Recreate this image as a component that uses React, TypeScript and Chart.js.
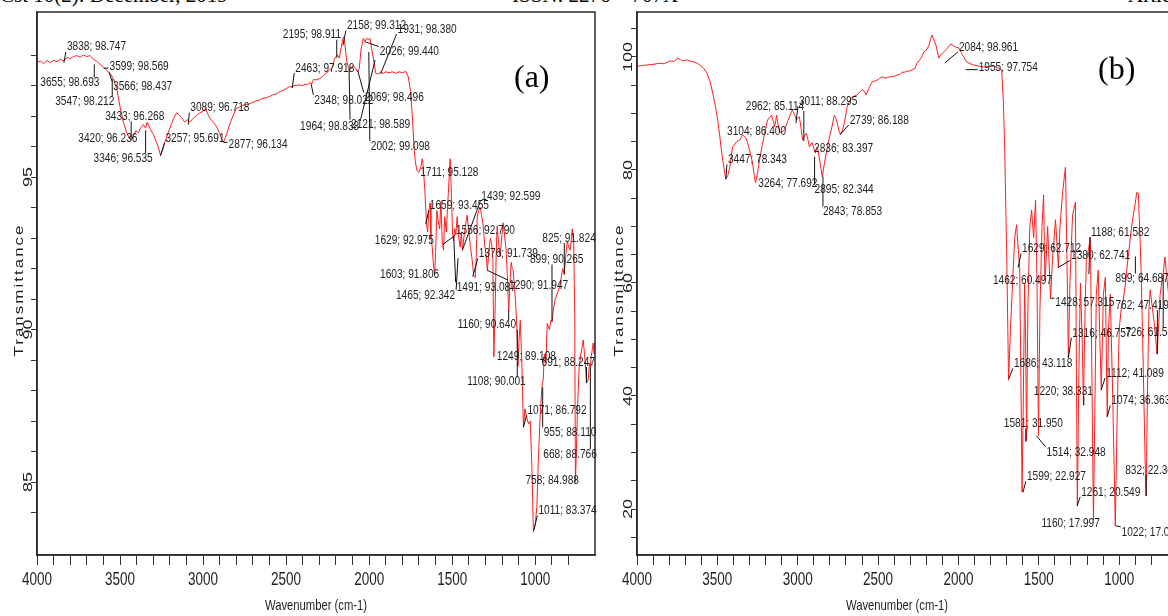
import React, { useEffect, useRef } from 'react';
import { Chart, registerables } from 'chart.js';

Chart.register(...registerables);

// ---------------- data: panel (a) ----------------
const wavenumberA = [
  4000, 3980, 3960, 3940, 3920, 3900, 3880, 3860, 3838, 3820, 3800, 3780, 3760, 3740, 3720, 3700, 3680, 3660, 3640, 3620,
  3600, 3580, 3560, 3540, 3520, 3500, 3480, 3460, 3440, 3430, 3420, 3405, 3390, 3375, 3360, 3346, 3337, 3320, 3300, 3285,
  3270, 3257, 3245, 3230, 3210, 3190, 3175, 3160, 3145, 3130, 3110, 3095, 3080, 3060, 3040, 3020, 3000, 2985, 2970, 2955,
  2935, 2915, 2900, 2885, 2877, 2865, 2850, 2835, 2820, 2800, 2780, 2760, 2740, 2720, 2700, 2680, 2660, 2640, 2620, 2600,
  2580, 2560, 2540, 2520, 2500, 2480, 2470, 2463, 2455, 2440, 2420, 2400, 2385, 2370, 2355, 2348, 2335, 2320, 2300, 2280,
  2260, 2240, 2220, 2210, 2200, 2190, 2180, 2170, 2160, 2152, 2145, 2135, 2125, 2110, 2095, 2080, 2069, 2060, 2048, 2035,
  2026, 2015, 2005, 1995, 1985, 1975, 1960, 1945, 1930, 1915, 1900, 1880, 1860, 1840, 1820, 1800, 1780, 1765, 1750, 1740,
  1730, 1722, 1715, 1711, 1700, 1690, 1680, 1675, 1665, 1655, 1648, 1640, 1633, 1628, 1620, 1614, 1606, 1600, 1592, 1585,
  1575, 1568, 1560, 1552, 1545, 1535, 1528, 1520, 1512, 1505, 1498, 1492, 1485, 1478, 1470, 1460, 1452, 1445, 1438, 1430,
  1420, 1410, 1400, 1390, 1380, 1370, 1361, 1355, 1349, 1340, 1331, 1322, 1313, 1305, 1295, 1288, 1280, 1270, 1262, 1255,
  1249, 1242, 1235, 1229, 1220, 1211, 1202, 1193, 1185, 1175, 1168, 1160, 1152, 1145, 1138, 1133, 1125, 1118, 1110, 1104,
  1098, 1090, 1080, 1071, 1062, 1050, 1040, 1030, 1020, 1011, 1000, 990, 982, 970, 960, 952, 945, 935, 928, 915,
  905, 899, 892, 880, 865, 849, 835, 825, 815, 807, 798, 789, 782, 777, 768, 762, 758, 752, 745, 735,
  725, 711, 700, 691, 681, 673, 668, 663, 655, 651, 645, 640,
];
const transmittanceA = [
  98.76, 98.8, 98.72, 98.82, 98.75, 98.83, 98.78, 98.86, 98.8, 98.92, 98.88, 98.95, 98.98, 98.93, 99.0, 98.95, 98.98, 98.86, 98.8, 98.7,
  98.6, 98.5, 98.4, 98.22, 97.9, 97.3, 96.8, 96.45, 96.25, 96.22, 96.35, 96.52, 96.45, 96.62, 96.72, 96.6, 96.8, 96.6, 96.4, 96.2,
  96.0, 95.72, 95.85, 96.15, 96.45, 96.75, 96.95, 97.1, 97.05, 96.95, 96.8, 96.88, 96.8, 96.92, 97.02, 97.1, 97.15, 97.25, 97.05, 96.9,
  96.78, 96.62, 96.42, 96.2, 96.15, 96.3, 96.55, 96.8, 97.0, 97.25, 97.3, 97.35, 97.38, 97.4, 97.45, 97.5, 97.52, 97.58, 97.6, 97.64,
  97.7, 97.72, 97.8, 97.84, 97.9, 97.96, 97.98, 97.92, 98.0, 98.0, 98.02, 98.0, 98.05, 98.03, 98.1, 98.02, 98.2, 98.18, 98.22, 98.3,
  98.4, 98.5, 98.6, 98.85, 98.95, 99.0, 98.9, 99.2, 99.5, 99.6, 99.3, 98.8, 98.6, 98.55, 98.65, 98.55, 98.45, 98.55, 99.2, 99.55,
  99.45, 99.55, 99.5, 99.55, 99.2, 98.9, 98.4, 98.38, 98.45, 98.4, 98.45, 98.42, 98.45, 98.4, 98.45, 98.42, 98.46, 98.3, 97.8, 97.0,
  96.0, 95.5, 95.3, 95.2, 95.15, 95.3, 95.6, 95.4, 94.6, 93.5, 93.2, 93.9, 94.15, 93.0, 92.7, 92.2, 91.8, 92.5, 93.9, 93.6,
  93.3, 94.2, 92.9, 92.6, 93.7, 93.2, 94.0, 94.8, 95.6, 94.5, 93.2, 92.9, 93.3, 93.1, 93.7, 93.0, 92.7, 93.2, 92.6, 93.0,
  93.4, 93.75, 93.2, 92.7, 92.3, 91.75, 91.7, 92.4, 93.7, 93.9, 94.0, 93.7, 93.4, 92.8, 92.4, 91.95, 92.5, 93.0, 92.8, 92.3,
  89.1, 90.5, 92.5, 93.4, 92.8, 92.4, 93.0, 93.5, 93.1, 92.6, 91.8, 90.6, 91.5, 92.2, 92.0, 91.95, 91.4, 90.9, 90.0, 88.8,
  89.6, 90.3, 88.8, 86.8, 87.4, 87.1, 86.9, 87.0, 85.5, 83.4, 83.6, 84.2, 85.6, 87.2, 88.1, 88.35, 89.2, 88.9, 90.2, 90.0,
  90.3, 90.25, 90.6, 91.0, 91.2, 91.5, 92.0, 91.8, 92.5, 92.9, 92.7, 92.6, 93.0, 93.3, 92.8, 90.5, 85.0, 86.0, 87.5, 88.8,
  89.2, 89.66, 89.0, 88.25, 88.35, 88.9, 88.77, 89.1, 89.4, 89.56, 89.2, 89.6,
];
const peakWavenumberA = [
  3838, 3655, 3599, 3566, 3547, 3433, 3420, 3346, 3257, 3089, 2877, 2463, 2348, 1964, 2195, 2158, 1931, 2026, 2069, 2121, 2002,
  1711, 1659, 1629, 1603, 1556, 1465, 1491, 1439, 1376, 1290, 1160, 1249, 1108, 1071, 1011, 955, 899, 825, 691, 668, 758,
];
const peakTransmittanceA = [
  98.747, 98.693, 98.569, 98.437, 98.212, 96.268, 96.236, 96.535, 95.691, 96.718, 96.134, 97.918, 98.022, 98.838, 98.911, 99.312, 98.38, 99.44, 98.496, 98.589, 99.098,
  95.128, 93.455, 92.975, 91.806, 92.79, 92.342, 93.087, 92.599, 91.739, 91.947, 90.64, 89.108, 90.001, 86.792, 83.374, 88.11, 90.265, 91.824, 88.247, 88.766, 84.988,
];

// ---------------- data: panel (b) ----------------
const wavenumberB = [
  4000, 3970, 3932, 3900, 3857, 3830, 3795, 3770, 3746, 3730, 3715, 3690, 3665, 3640, 3609, 3585, 3566, 3545, 3529, 3510,
  3498, 3485, 3473, 3460, 3448, 3435, 3423, 3405, 3380, 3361, 3343, 3325, 3312, 3295, 3281, 3270, 3262, 3250, 3237, 3220,
  3206, 3188, 3163, 3150, 3144, 3138, 3132, 3122, 3113, 3095, 3082, 3060, 3039, 3033, 3020, 3008, 3000, 2990, 2980, 2970,
  2958, 2946, 2935, 2927, 2918, 2909, 2900, 2890, 2884, 2878, 2862, 2847, 2835, 2822, 2805, 2791, 2772, 2765, 2754, 2740,
  2729, 2720, 2710, 2692, 2676, 2661, 2630, 2615, 2599, 2585, 2574, 2555, 2537, 2506, 2490, 2475, 2460, 2444, 2430, 2413,
  2400, 2382, 2365, 2351, 2335, 2320, 2305, 2289, 2270, 2258, 2245, 2233, 2214, 2195, 2183, 2165, 2152, 2140, 2122, 2105,
  2091, 2070, 2047, 2020, 1998, 1975, 1948, 1925, 1905, 1875, 1843, 1810, 1781, 1755, 1731, 1720, 1712, 1700, 1688, 1676,
  1663, 1650, 1638, 1628, 1619, 1612, 1604, 1596, 1588, 1582, 1576, 1568, 1556, 1545, 1532, 1520, 1511, 1502, 1493, 1480,
  1470, 1462, 1458, 1445, 1427, 1415, 1396, 1385, 1378, 1368, 1352, 1334, 1325, 1316, 1306, 1290, 1272, 1266, 1260, 1250,
  1241, 1230, 1222, 1212, 1204, 1190, 1179, 1170, 1160, 1150, 1142, 1130, 1120, 1111, 1098, 1086, 1080, 1074, 1066, 1055,
  1040, 1024, 1010, 999, 985, 975, 960, 950, 938, 925, 912, 900, 891, 881, 870, 863, 850, 838, 832, 824,
  815, 807, 795, 782, 772, 764, 755, 745, 735, 727, 715, 700, 680, 660, 640,
];
const transmittanceB = [
  98.3, 98.5, 98.6, 98.7, 98.9, 98.8, 99.3, 99.2, 99.8, 99.5, 99.3, 99.5, 99.2, 99.1, 98.6, 98.0, 97.2, 95.6, 93.6, 91.0,
  88.85, 86.0, 83.0, 80.5, 78.4, 79.0, 80.5, 84.1, 85.0, 85.3, 86.2, 85.8, 84.8, 83.0, 81.2, 79.0, 77.7, 79.5, 81.8, 84.5,
  86.5, 88.85, 89.7, 88.5, 87.6, 88.5, 89.7, 88.0, 86.7, 86.8, 87.1, 88.8, 90.3, 90.6, 89.8, 88.85, 89.2, 89.4, 87.6, 85.3,
  86.0, 86.5, 85.2, 84.1, 84.6, 84.8, 83.8, 83.0, 83.6, 84.1, 81.5, 78.8, 81.0, 83.0, 85.5, 87.1, 89.7, 89.3, 88.3, 86.6,
  86.5, 87.2, 88.3, 91.2, 92.3, 92.9, 93.3, 93.8, 94.2, 93.9, 93.3, 94.6, 95.6, 95.9, 96.2, 96.5, 96.3, 96.3, 96.5, 96.5,
  96.6, 96.8, 96.9, 97.3, 97.3, 97.5, 97.5, 97.7, 98.0, 98.9, 99.3, 99.8, 100.9, 101.4, 102.1, 103.9, 103.0, 102.1, 99.8, 100.5,
  100.9, 101.5, 102.3, 101.8, 101.6, 100.4, 99.1, 98.8, 98.6, 98.4, 98.2, 98.3, 98.4, 98.1, 97.7, 92.0, 83.5, 65.8, 42.8, 52.0,
  60.0, 68.0, 70.3, 66.0, 62.7, 45.0, 23.0, 40.0, 60.0, 50.0, 32.0, 55.0, 70.0, 72.9, 68.0, 74.7, 60.0, 33.0, 55.0, 70.0,
  75.6, 60.5, 62.0, 70.0, 57.3, 64.0, 71.2, 66.0, 62.7, 70.0, 76.0, 80.5, 65.0, 46.7, 60.0, 72.0, 74.3, 45.0, 20.5, 45.0,
  60.0, 50.0, 38.4, 55.0, 64.0, 66.0, 68.1, 45.0, 18.0, 40.0, 58.0, 62.3, 50.0, 41.1, 58.0, 61.0, 48.0, 36.3, 52.0, 58.0,
  40.0, 17.0, 40.0, 52.0, 56.0, 57.0, 60.0, 63.0, 66.0, 69.4, 72.0, 74.0, 76.0, 75.9, 68.0, 62.0, 45.0, 28.0, 22.3, 40.0,
  55.0, 58.8, 56.0, 53.0, 50.0, 47.4, 52.0, 58.0, 60.0, 61.4, 64.6, 60.0, 55.0, 52.0, 50.0,
];
const peakWavenumberB = [
  2084, 1955, 2962, 3104, 3011, 2739, 3447, 2836, 3264, 2895, 2843,
  1188, 1629, 1380, 1462, 1428, 899, 762, 1316, 726, 1686, 1220, 1112, 1074, 1581, 1514, 1599, 1261, 832, 1160, 1022,
];
const peakTransmittanceB = [
  98.961, 97.754, 85.114, 86.4, 88.295, 86.188, 78.343, 83.397, 77.692, 82.344, 78.853,
  61.582, 62.712, 62.741, 60.497, 57.315, 64.687, 47.419, 46.757, 61.505, 43.118, 38.331, 41.089, 36.363, 31.95, 32.948, 22.927, 20.549, 22.308, 17.997, 17.024,
];

// axis ranges / tick spacing
const xRange = [640, 4000];
const yRangeA = [82.61, 100.41];
const yRangeB = [11.86, 107.96];
const xMinorStep = 100;
const xLabelStep = 500;
const yMinorStepA = 1;
const yLabelStepA = 5;
const yMinorStepB = 5;
const yLabelStepB = 20;

// ---------------- layout (pixels) ----------------
// label offsets [dx, dy] of the label's left/centre from its peak marker
const labelOffsetA = [
  [3, -16], [-54, 18], [6, -2], [4, 14], [-57, 22], [-26, -22], [-55, -1], [-52, 28], [5, -18], [2, -17], [5, 2], [3, -20], [3, 15], [-75, 66],
  [-54, -23], [4, -20], [17, -45], [15, 10], [7, 27], [2, 57], [2, 94],
  [3, -1], [4, -19], [-56, 1], [-55, 0], [13, -14], [-62, 37], [3, 52], [19, -54], [6, -23], [22, 15], [-51, 14], [3, 0], [-50, 52],
  [4, -17], [5, -21], [1, 45], [-22, -62], [-22, -36], [-45, -21], [-47, 87], [-50, -2],
];
const labelOffsetB = [
  [14, -16], [13, -2], [-58, -35], [-54, -3], [3, -22], [10, -15], [2, -20], [-10, -3], [3, 0], [0, 33], [0, 35],
  [2, -42], [4, -19], [13, -12], [-52, 0], [5, 4], [-20, 22], [-42, -49], [4, -25], [-38, 58], [5, -15], [-50, -14], [5, -17], [4, -16],
  [-22, -18], [10, 16], [4, -16], [4, -14], [-21, -26], [-52, 3], [6, 6],
];

const SQUEEZE = 0.75;
const INK = '#1e1e1e';
const SANS = '"Liberation Sans", Arial, sans-serif';

function squeezedText(
  ctx: CanvasRenderingContext2D, text: string, x: number, y: number, font: string,
  align: CanvasTextAlign, baseline: CanvasTextBaseline, rotate = false, spacing = 0,
) {
  ctx.save();
  ctx.translate(x, y);
  ctx.scale(SQUEEZE, 1);
  if (rotate) ctx.rotate(-Math.PI / 2);
  ctx.font = font;
  ctx.fillStyle = INK;
  ctx.textAlign = align;
  ctx.textBaseline = baseline;
  (ctx as any).letterSpacing = spacing + 'px';
  ctx.fillText(text, 0, 0);
  ctx.restore();
}

type PanelSpec = {
  wn: number[];
  tr: number[];
  peakWn: number[];
  peakTr: number[];
  offsets: number[][];
  yRange: number[];
  yMinorStep: number;
  yLabelStep: number;
  tag: string;
  tagPos: number[];
  titleX: number;
  width: number;
  padRight: number;
};

function makeDecor(spec: PanelSpec) {
  return {
    id: 'ftirDecor',
    afterDatasetsDraw(chart: any) {
      const ctx: CanvasRenderingContext2D = chart.ctx;
      const { left, right, top, bottom } = chart.chartArea;
      const xs = chart.scales.x;
      const ys = chart.scales.y;
      // frame
      ctx.save();
      ctx.strokeStyle = '#2a2a2a';
      ctx.lineWidth = 1.5;
      ctx.strokeRect(left, top, right - left, bottom - top);
      ctx.restore();
      // peak labels with leader lines
      const labelFont = `13.5px ${SANS}`;
      ctx.save();
      ctx.font = labelFont;
      spec.peakWn.forEach((w, i) => {
        const v = spec.peakTr[i];
        const text = `${w}; ${v.toFixed(3)}`;
        const mx = xs.getPixelForValue(w);
        const my = ys.getPixelForValue(v);
        const [dx, dy] = spec.offsets[i];
        const lx = mx + dx;
        const cy = my + dy;
        const wdt = ctx.measureText(text).width * SQUEEZE;
        const bx0 = lx - 1, bx1 = lx + wdt + 1, by0 = cy - 5, by1 = cy + 5;
        const px = Math.min(Math.max(mx, bx0), bx1);
        const py = Math.min(Math.max(my, by0), by1);
        if (Math.hypot(px - mx, py - my) > 2) {
          ctx.save();
          ctx.strokeStyle = '#111';
          ctx.lineWidth = 1;
          ctx.beginPath();
          ctx.moveTo(mx, my);
          ctx.lineTo(px, py);
          ctx.stroke();
          ctx.restore();
        }
        squeezedText(ctx, text, lx, cy, labelFont, 'left', 'middle');
      });
      ctx.restore();
      // x tick labels
      xs.ticks.forEach((t: any) => {
        if (Math.round(t.value) % xLabelStep === 0) {
          squeezedText(ctx, String(t.value), xs.getPixelForValue(t.value), 580, `18px ${SANS}`, 'center', 'middle');
        }
      });
      // y tick labels (rotated)
      ys.ticks.forEach((t: any) => {
        if (Math.round(t.value) % spec.yLabelStep === 0) {
          squeezedText(ctx, String(t.value), left - 9, ys.getPixelForValue(t.value), `18px ${SANS}`, 'center', 'middle', true);
        }
      });
      // axis titles
      squeezedText(ctx, 'Wavenumber (cm-1)', spec.titleX, 606, `15px ${SANS}`, 'center', 'middle');
      squeezedText(ctx, 'Transmittance', left - 18, 290, `17px ${SANS}`, 'center', 'middle', true, 2);
      // panel tag
      ctx.save();
      ctx.font = '32px "Liberation Serif", "Times New Roman", serif';
      ctx.fillStyle = '#000';
      ctx.textAlign = 'left';
      ctx.textBaseline = 'middle';
      ctx.fillText(spec.tag, spec.tagPos[0], spec.tagPos[1]);
      ctx.restore();
    },
  };
}

function Panel({ spec, left }: { spec: PanelSpec; left: number }) {
  const ref = useRef<HTMLCanvasElement | null>(null);
  useEffect(() => {
    if (!ref.current) return;
    const points = spec.wn.map((w, i) => ({ x: w, y: spec.tr[i] }));
    const chart = new Chart(ref.current, {
      type: 'line',
      data: {
        datasets: [
          {
            data: points,
            borderColor: '#ff1e1e',
            borderWidth: 1,
            pointRadius: 0,
            tension: 0,
            fill: false,
          },
        ],
      },
      options: {
        animation: false,
        responsive: false,
        devicePixelRatio: 1,
        parsing: false,
        layout: { padding: { top: 12, right: spec.padRight, left: 0, bottom: 0 } },
        plugins: { legend: { display: false }, tooltip: { enabled: false }, title: { display: false } },
        scales: {
          x: {
            type: 'linear',
            reverse: true,
            min: xRange[0],
            max: xRange[1],
            ticks: { display: false, stepSize: xMinorStep },
            afterBuildTicks: (s: any) => {
              s.ticks = s.ticks.filter((t: any) => Math.abs(t.value / xMinorStep - Math.round(t.value / xMinorStep)) < 1e-6);
            },
            afterFit: (s: any) => { s.height = 616 - 555; },
            grid: { drawOnChartArea: false, drawTicks: true, tickLength: 10, color: '#333', lineWidth: 1 },
            border: { display: true, color: '#2a2a2a', width: 1.5 },
          },
          y: {
            type: 'linear',
            min: spec.yRange[0],
            max: spec.yRange[1],
            ticks: { display: false, stepSize: spec.yMinorStep },
            afterBuildTicks: (s: any) => {
              s.ticks = s.ticks.filter((t: any) => Math.abs(t.value / spec.yMinorStep - Math.round(t.value / spec.yMinorStep)) < 1e-6);
            },
            afterFit: (s: any) => { s.width = 37; },
            grid: { drawOnChartArea: false, drawTicks: true, tickLength: 6, color: '#333', lineWidth: 1 },
            border: { display: true, color: '#2a2a2a', width: 1.5 },
          },
        },
      } as any,
      plugins: [makeDecor(spec)],
    });
    return () => chart.destroy();
  }, [spec]);
  return (
    <canvas
      ref={ref}
      width={spec.width}
      height={616}
      style={{ position: 'absolute', left, top: 0, width: spec.width, height: 616 }}
    />
  );
}

const specA: PanelSpec = {
  wn: wavenumberA, tr: transmittanceA, peakWn: peakWavenumberA, peakTr: peakTransmittanceA, offsets: labelOffsetA,
  yRange: yRangeA, yMinorStep: yMinorStepA, yLabelStep: yLabelStepA, tag: '(a)', tagPos: [514, 79], titleX: 316, width: 600, padRight: 5,
};
const specB: PanelSpec = {
  wn: wavenumberB, tr: transmittanceB, peakWn: peakWavenumberB, peakTr: peakTransmittanceB, offsets: labelOffsetB,
  yRange: yRangeB, yMinorStep: yMinorStepB, yLabelStep: yLabelStepB, tag: '(b)', tagPos: [498, 71], titleX: 297, width: 600, padRight: 23,
};

export default function App() {
  return (
    <div style={{ position: 'fixed', left: 0, top: 0, width: 1168, height: 616, overflow: 'hidden', background: '#fff' }}>
      <div style={{ position: 'absolute', left: 0, top: -17, font: '21px "Liberation Serif", serif', whiteSpace: 'nowrap', color: '#000' }}>
        Cst 10(2): December, 2019
      </div>
      <div style={{ position: 'absolute', left: 512, top: -17, font: '21px "Liberation Serif", serif', whiteSpace: 'nowrap', color: '#000' }}>
        ISSN: 2276 – 707X
      </div>
      <div style={{ position: 'absolute', left: 1128, top: -17, font: '21px "Liberation Serif", serif', whiteSpace: 'nowrap', color: '#000' }}>
        Article
      </div>
      <Panel spec={specA} left={0} />
      <Panel spec={specB} left={600} />
    </div>
  );
}
